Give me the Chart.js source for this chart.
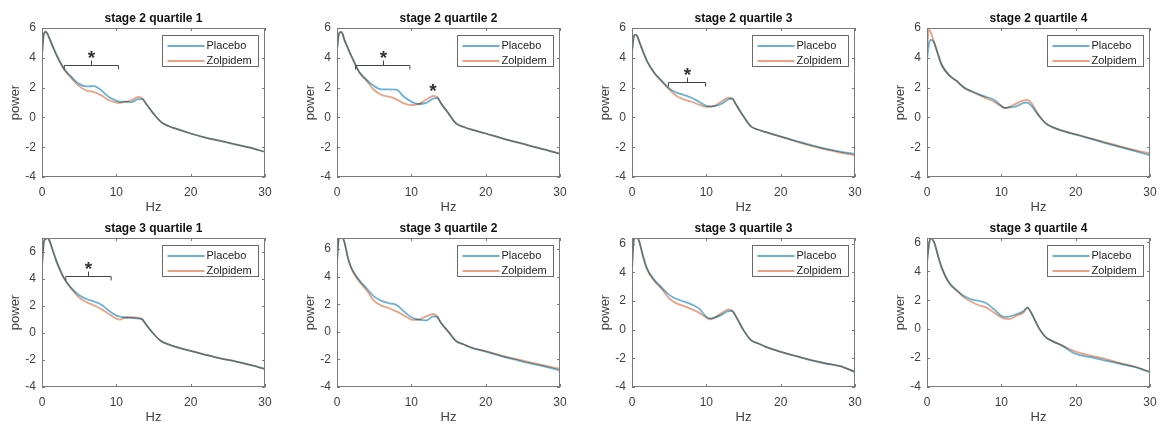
<!DOCTYPE html>
<html>
<head>
<meta charset="utf-8">
<script src="https://cdn.jsdelivr.net/npm/chart.js@4"></script>
<style>
  body { margin: 0; background: #fff; }
  #wrap { position: relative; width: 1168px; height: 425px; overflow: hidden; }
  #wrap canvas { position: absolute; }
</style>
</head>
<body>
<div id="wrap"></div>
<script>
// frequency grid shared by every panel (Hz)
const freqs = [0, 0.25, 0.5, 0.75, 1, 1.5, 2, 3, 4, 5, 6, 7, 8, 9, 10, 10.5, 11, 12, 13, 13.5, 14, 15, 16, 17, 18, 20, 22, 24, 26, 28, 30];

const titles = ['stage 2 quartile 1', 'stage 2 quartile 2', 'stage 2 quartile 3', 'stage 2 quartile 4',
                'stage 3 quartile 1', 'stage 3 quartile 2', 'stage 3 quartile 3', 'stage 3 quartile 4'];
const yMax = [6, 6, 6, 6, 7, 6.8, 6.4, 6.3];
const yTicks = [-4, -2, 0, 2, 4, 6];
const xTicks = [0, 10, 20, 30];

// power spectra
const placeboS2Q1 = [4.2, 5.6, 5.75, 5.6, 5.3, 4.7, 4.15, 3.25, 2.7, 2.25, 2.08, 2.1, 1.8, 1.37, 1.12, 1.05, 1.06, 1.03, 1.22, 1.22, 0.92, 0.25, -0.3, -0.58, -0.76, -1.08, -1.36, -1.58, -1.81, -2.03, -2.32];
const zolpidemS2Q1 = [4.2, 5.6, 5.75, 5.6, 5.3, 4.7, 4.12, 3.2, 2.6, 2.1, 1.8, 1.7, 1.48, 1.15, 1.0, 0.98, 1.02, 1.15, 1.37, 1.28, 0.92, 0.25, -0.3, -0.58, -0.76, -1.08, -1.36, -1.58, -1.81, -2.03, -2.32];
const placeboS2Q2 = [4.5, 5.6, 5.73, 5.6, 5.2, 4.6, 4.05, 3.05, 2.52, 2.1, 1.88, 1.88, 1.86, 1.39, 1.06, 0.95, 0.9, 0.98, 1.28, 1.3, 0.94, 0.27, -0.4, -0.63, -0.81, -1.08, -1.37, -1.64, -1.91, -2.16, -2.45];
const zolpidemS2Q2 = [4.5, 5.6, 5.73, 5.6, 5.2, 4.6, 4.05, 3.02, 2.45, 1.84, 1.5, 1.39, 1.21, 0.94, 0.83, 0.85, 0.9, 1.2, 1.45, 1.36, 0.94, 0.27, -0.4, -0.63, -0.81, -1.08, -1.37, -1.64, -1.91, -2.16, -2.45];
const placeboS2Q3 = [4.4, 5.45, 5.55, 5.4, 5.05, 4.4, 3.8, 3.0, 2.45, 1.95, 1.66, 1.5, 1.32, 1.05, 0.78, 0.74, 0.75, 0.9, 1.22, 1.26, 0.86, 0.07, -0.6, -0.83, -0.99, -1.29, -1.58, -1.85, -2.1, -2.3, -2.45];
const zolpidemS2Q3 = [4.4, 5.45, 5.55, 5.4, 5.05, 4.4, 3.8, 2.98, 2.4, 1.88, 1.43, 1.2, 1.05, 0.86, 0.7, 0.72, 0.75, 1.05, 1.32, 1.26, 0.86, 0.07, -0.6, -0.83, -0.99, -1.29, -1.6, -1.9, -2.15, -2.36, -2.55];
const placeboS2Q4 = [3.8, 4.9, 5.2, 5.15, 4.95, 4.2, 3.5, 2.82, 2.44, 2.0, 1.77, 1.55, 1.37, 1.19, 0.78, 0.64, 0.66, 0.74, 0.97, 1.0, 0.8, 0.14, -0.42, -0.69, -0.87, -1.16, -1.43, -1.72, -2.0, -2.27, -2.55];
const zolpidemS2Q4 = [4.5, 5.9, 5.7, 5.35, 5.0, 4.2, 3.5, 2.82, 2.44, 1.98, 1.72, 1.5, 1.28, 1.05, 0.74, 0.63, 0.7, 0.92, 1.15, 1.18, 1.0, 0.18, -0.4, -0.67, -0.85, -1.13, -1.4, -1.68, -1.95, -2.2, -2.43];
const placeboS3Q1 = [4.9, 6.7, 6.95, 7.0, 6.8, 6.0, 5.22, 4.0, 3.28, 2.78, 2.5, 2.31, 2.07, 1.63, 1.27, 1.2, 1.15, 1.1, 1.05, 0.98, 0.61, -0.07, -0.6, -0.85, -1.04, -1.33, -1.62, -1.89, -2.11, -2.37, -2.67];
const zolpidemS3Q1 = [4.9, 6.7, 6.95, 7.0, 6.8, 6.0, 5.2, 3.98, 3.22, 2.6, 2.26, 2.02, 1.75, 1.39, 1.05, 0.98, 1.1, 1.15, 1.1, 1.0, 0.61, -0.07, -0.6, -0.85, -1.04, -1.33, -1.62, -1.89, -2.11, -2.37, -2.67];
const placeboS3Q2 = [5.0, 6.75, 6.8, 6.8, 6.5, 5.3, 4.57, 3.74, 3.14, 2.55, 2.24, 2.07, 1.95, 1.48, 1.05, 0.95, 0.88, 0.83, 1.12, 1.05, 0.64, 0.0, -0.67, -0.9, -1.14, -1.43, -1.74, -2.02, -2.29, -2.52, -2.81];
const zolpidemS3Q2 = [5.0, 6.75, 6.8, 6.8, 6.5, 5.3, 4.5, 3.65, 3.0, 2.24, 1.9, 1.71, 1.48, 1.19, 0.88, 0.86, 0.88, 1.12, 1.29, 1.1, 0.64, 0.0, -0.67, -0.9, -1.12, -1.4, -1.7, -1.97, -2.22, -2.45, -2.69];
const placeboS3Q3 = [4.2, 6.3, 6.4, 6.4, 6.1, 5.1, 4.3, 3.48, 2.94, 2.43, 2.14, 1.96, 1.77, 1.49, 0.91, 0.79, 0.84, 1.02, 1.3, 1.3, 0.91, -0.03, -0.73, -0.96, -1.2, -1.55, -1.83, -2.13, -2.36, -2.55, -2.95];
const zolpidemS3Q3 = [4.2, 6.3, 6.4, 6.4, 6.1, 5.1, 4.25, 3.4, 2.85, 2.19, 1.84, 1.65, 1.44, 1.19, 0.84, 0.72, 0.8, 1.14, 1.42, 1.3, 0.91, -0.03, -0.73, -0.96, -1.2, -1.55, -1.83, -2.1, -2.33, -2.55, -2.95];
const placeboS3Q4 = [4.6, 5.8, 6.3, 6.2, 5.95, 5.04, 4.24, 3.2, 2.7, 2.29, 2.06, 1.95, 1.79, 1.38, 0.92, 0.85, 0.87, 1.03, 1.26, 1.49, 1.15, 0.12, -0.57, -0.86, -1.09, -1.71, -1.94, -2.17, -2.4, -2.63, -2.97];
const zolpidemS3Q4 = [4.6, 5.8, 6.3, 6.2, 5.95, 5.04, 4.2, 3.15, 2.65, 2.18, 1.88, 1.65, 1.49, 1.15, 0.81, 0.72, 0.69, 0.92, 1.15, 1.49, 1.15, 0.12, -0.57, -0.86, -1.09, -1.55, -1.83, -2.06, -2.35, -2.6, -2.97];

const placeboSets = [placeboS2Q1, placeboS2Q2, placeboS2Q3, placeboS2Q4, placeboS3Q1, placeboS3Q2, placeboS3Q3, placeboS3Q4];
const zolpidemSets = [zolpidemS2Q1, zolpidemS2Q2, zolpidemS2Q3, zolpidemS2Q4, zolpidemS3Q1, zolpidemS3Q2, zolpidemS3Q3, zolpidemS3Q4];

// significance marks (data coordinates)
const bracketPanel = [0, 1, 2, 4];
const bracketFrom = [3.0, 2.5, 4.9, 3.2];
const bracketTo = [10.3, 9.8, 9.9, 9.3];
const bracketY = [3.5, 3.5, 2.4, 4.2];
const starPanel = [1];
const starX = [12.9];
const starY = [2.1];

const blue = 'rgb(105,178,214)';
const orange = 'rgb(234,162,132)';
const boxColor = '#7a7a7a';
const labelColor = '#404040';

Chart.defaults.font.family = "'Liberation Sans', Arial, Helvetica, sans-serif";
Chart.defaults.font.size = 12;
Chart.defaults.color = labelColor;

function drawStar(ctx, px, py) {
  ctx.font = "bold 19px 'Liberation Sans', Arial, sans-serif";
  ctx.fillStyle = '#333';
  ctx.textAlign = 'center';
  ctx.textBaseline = 'alphabetic';
  ctx.fillText('*', px, py + 11);
}

// overlapping traces darken each other, as in the source figure
const multiplyLines = {
  id: 'multiplyLines',
  beforeDatasetsDraw(chart) {
    chart.ctx.save();
    chart.ctx.globalCompositeOperation = 'multiply';
  },
  afterDatasetsDraw(chart) {
    chart.ctx.restore();
  }
};

// MATLAB-like box, inward ticks, legend and significance marks
const matlabAxes = {
  id: 'matlabAxes',
  afterDatasetsDraw(chart, args, opts) {
    const {ctx, chartArea: a, scales: {x, y}} = chart;
    const idx = opts.panel;
    ctx.save();
    ctx.strokeStyle = boxColor;
    ctx.lineWidth = 1;
    ctx.strokeRect(a.left + 0.5, a.top + 0.5, a.width - 1, a.height - 1);
    ctx.beginPath();
    x.ticks.forEach(t => {
      const px = Math.round(x.getPixelForValue(t.value)) + 0.5;
      ctx.moveTo(px, a.bottom); ctx.lineTo(px, a.bottom - 3);
      ctx.moveTo(px, a.top); ctx.lineTo(px, a.top + 3);
    });
    y.ticks.forEach(t => {
      const py = Math.round(y.getPixelForValue(t.value)) + 0.5;
      ctx.moveTo(a.left, py); ctx.lineTo(a.left + 3, py);
      ctx.moveTo(a.right, py); ctx.lineTo(a.right - 3, py);
    });
    ctx.stroke();

    // legend
    const lw = 96, lh = 31;
    const lx = Math.round(a.right - 7 - lw) + 0.5, ly = Math.round(a.top + 7) + 0.5;
    ctx.fillStyle = '#fff';
    ctx.fillRect(lx, ly, lw, lh);
    ctx.strokeStyle = '#6a6a6a';
    ctx.strokeRect(lx, ly, lw, lh);
    chart.data.datasets.forEach((ds, k) => {
      const ry = ly + 10.5 + k * 15;
      ctx.strokeStyle = ds.borderColor;
      ctx.lineWidth = 1.8;
      ctx.beginPath();
      ctx.moveTo(lx + 5, ry); ctx.lineTo(lx + 42, ry);
      ctx.stroke();
      ctx.fillStyle = '#222';
      ctx.font = "11px 'Liberation Sans', Arial, sans-serif";
      ctx.textAlign = 'left';
      ctx.textBaseline = 'middle';
      ctx.fillText(ds.label, lx + 44, ry);
    });

    // brackets with asterisk
    ctx.strokeStyle = '#444';
    ctx.lineWidth = 1;
    bracketPanel.forEach((p, k) => {
      if (p !== idx) return;
      const x0 = x.getPixelForValue(bracketFrom[k]);
      const x1 = x.getPixelForValue(bracketTo[k]);
      const by = Math.round(y.getPixelForValue(bracketY[k])) + 0.5;
      const mid = Math.round((x0 + x1) / 2) + 0.5;
      ctx.beginPath();
      ctx.moveTo(x0, by + 4); ctx.lineTo(x0, by); ctx.lineTo(x1, by); ctx.lineTo(x1, by + 4);
      ctx.moveTo(mid, by); ctx.lineTo(mid, by - 5);
      ctx.stroke();
      drawStar(ctx, mid, by - 13);
    });
    starPanel.forEach((p, k) => {
      if (p !== idx) return;
      drawStar(ctx, x.getPixelForValue(starX[k]), y.getPixelForValue(starY[k]));
    });
    ctx.restore();
  }
};

const wrap = document.getElementById('wrap');

titles.forEach((title, i) => {
  const row = Math.floor(i / 4), col = i % 4;
  const canvas = document.createElement('canvas');
  canvas.width = 295;
  canvas.height = 217;
  canvas.style.left = (col * 295) + 'px';
  canvas.style.top = (row * 210) + 'px';
  wrap.appendChild(canvas);

  new Chart(canvas.getContext('2d'), {
    type: 'line',
    data: {
      datasets: [
        { label: 'Placebo', data: freqs.map((f, k) => ({ x: f, y: placeboSets[i][k] })), borderColor: blue },
        { label: 'Zolpidem', data: freqs.map((f, k) => ({ x: f, y: zolpidemSets[i][k] })), borderColor: orange }
      ]
    },
    options: {
      responsive: false,
      animation: false,
      layout: { padding: { top: 0, right: 30, bottom: 0, left: 0 } },
      elements: {
        point: { radius: 0 },
        line: { borderWidth: 1.8, cubicInterpolationMode: 'monotone', fill: false }
      },
      scales: {
        x: {
          type: 'linear', min: 0, max: 30,
          grid: { display: false, drawTicks: false },
          border: { display: false },
          ticks: { stepSize: 10, padding: 8, color: labelColor, maxRotation: 0,
                   callback: v => xTicks.includes(v) ? v : null },
          title: { display: true, text: 'Hz', color: labelColor, font: { size: 13 }, padding: { top: 0, bottom: 2 } },
          afterFit: s => { s.height = 40; }
        },
        y: {
          type: 'linear', min: -4, max: yMax[i],
          grid: { display: false, drawTicks: false },
          border: { display: false },
          ticks: { stepSize: 2, padding: 6, color: labelColor, includeBounds: false,
                   callback: v => yTicks.includes(v) ? v : null },
          title: { display: true, text: 'power', color: labelColor, font: { size: 13 }, padding: { top: 8, bottom: 0 } },
          afterFit: s => { s.width = 42; }
        }
      },
      plugins: {
        legend: { display: false },
        tooltip: { enabled: false },
        title: { display: true, fullSize: false, text: title, color: '#111', font: { size: 12, weight: 'bold' },
                 padding: { top: 11, bottom: 2.6 } },
        matlabAxes: { panel: i }
      }
    },
    plugins: [multiplyLines, matlabAxes]
  });
});
</script>
</body>
</html>
